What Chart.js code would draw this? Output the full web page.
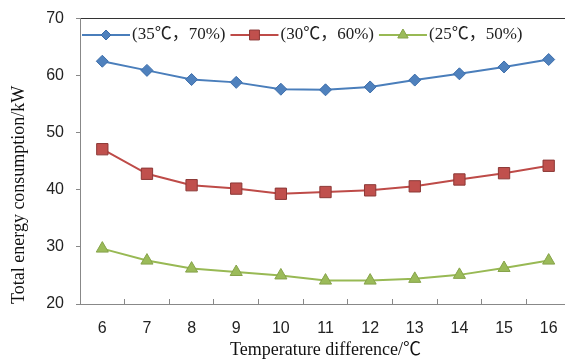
<!DOCTYPE html>
<html>
<head>
<meta charset="utf-8">
<script src="https://cdn.jsdelivr.net/npm/chart.js@4.4.0/dist/chart.umd.min.js"></script>
<style>
html, body { margin: 0; padding: 0; background: #fff; overflow: hidden; }
#wrap { width: 580px; height: 363px; position: relative; }
</style>
</head>
<body>
<div id="wrap"><canvas id="chart"></canvas></div>
<script>
const tempDiff = ['6', '7', '8', '9', '10', '11', '12', '13', '14', '15', '16'];
const load35 = [62.5, 60.9, 59.3, 58.8, 57.6, 57.5, 58.0, 59.2, 60.3, 61.5, 62.8];
const load30 = [47.1, 42.8, 40.8, 40.2, 39.3, 39.6, 39.9, 40.6, 41.8, 42.9, 44.2];
const load25 = [29.7, 27.6, 26.2, 25.6, 25.0, 24.1, 24.1, 24.4, 25.1, 26.3, 27.6];
const seriesNames = ['(35℃，70%)', '(30℃，60%)', '(25℃，50%)'];

// legend drawn inside the plot, line + marker like the original
const insideLegend = {
    id: 'insideLegend',
    afterDraw(chart) {
        const ctx = chart.ctx;
        let x = 82;
        const y = 35;
        ctx.save();
        ctx.font = '17px "Liberation Serif", "Noto Sans CJK SC"';
        ctx.textBaseline = 'middle';
        chart.data.datasets.forEach(ds => {
            ctx.strokeStyle = ds.borderColor;
            ctx.lineWidth = 2;
            ctx.beginPath();
            ctx.moveTo(x, y);
            ctx.lineTo(x + 48, y);
            ctx.stroke();
            ctx.fillStyle = ds.pointBackgroundColor;
            ctx.strokeStyle = ds.pointBorderColor;
            ctx.lineWidth = 1;
            Chart.helpers.drawPoint(ctx, { pointStyle: ds.pointStyle, radius: ds.pointRadius - 1, borderWidth: 1, rotation: 0 }, x + 24, y);
            ctx.fillStyle = '#222';
            ctx.fillText(ds.label, x + 50, y);
            x += 50 + ctx.measureText(ds.label).width + 5;
        });
        ctx.restore();
    }
};

const ctx = document.getElementById('chart').getContext('2d');
new Chart(ctx, {
    type: 'line',
    data: {
        labels: tempDiff,
        datasets: [
            {
                label: seriesNames[0],
                data: load35,
                borderColor: '#4A7EBB',
                borderWidth: 2,
                pointStyle: 'rectRot',
                pointRadius: 6,
                pointBackgroundColor: '#4F81BD',
                pointBorderColor: '#3C6DAA',
                pointBorderWidth: 1,
                tension: 0
            },
            {
                label: seriesNames[1],
                data: load30,
                borderColor: '#BE4B48',
                borderWidth: 2,
                pointStyle: 'rect',
                pointRadius: 8,
                pointBackgroundColor: '#C0504D',
                pointBorderColor: '#8C3836',
                pointBorderWidth: 1,
                tension: 0
            },
            {
                label: seriesNames[2],
                data: load25,
                borderColor: '#98B954',
                borderWidth: 2,
                pointStyle: 'triangle',
                pointRadius: 7,
                pointBackgroundColor: '#9BBB59',
                pointBorderColor: '#86A34A',
                pointBorderWidth: 1,
                tension: 0
            }
        ]
    },
    options: {
        responsive: true,
        maintainAspectRatio: false,
        animation: false,
        layout: { padding: { top: 2, right: 5, bottom: 2, left: 0 } },
        plugins: {
            legend: { display: false },
            tooltip: { enabled: false }
        },
        scales: {
            x: {
                offset: true,
                afterFit(scale) { scale.height = 57; },
                grid: {
                    offset: true,
                    drawOnChartArea: false,
                    tickLength: -5,
                    tickColor: '#888'
                },
                border: { color: '#888', width: 1 },
                ticks: {
                    padding: 20,
                    color: '#222',
                    font: { family: '"Liberation Sans"', size: 16 }
                },
                title: {
                    display: true,
                    text: 'Temperature difference/℃',
                    color: '#111',
                    padding: { top: 0, bottom: 0 },
                    font: { family: '"Liberation Serif", "Noto Sans CJK SC"', size: 18 }
                }
            },
            y: {
                min: 20,
                max: 70,
                afterFit(scale) { scale.width = 80; },
                ticks: {
                    stepSize: 10,
                    padding: 12,
                    color: '#222',
                    font: { family: '"Liberation Sans"', size: 16, lineHeight: 0.8 }
                },
                grid: {
                    color: c => (c.tick && c.tick.value === 70 ? '#333' : 'rgba(0,0,0,0)'),
                    tickColor: '#888',
                    tickLength: 4
                },
                border: { color: '#888', width: 1 },
                title: {
                    display: true,
                    align: 'start',
                    text: 'Total energy consumption/kW',
                    color: '#111',
                    padding: { top: 8, bottom: 0 },
                    font: { family: '"Liberation Serif"', size: 18 }
                }
            }
        }
    },
    plugins: [insideLegend]
});
</script>
</body>
</html>
